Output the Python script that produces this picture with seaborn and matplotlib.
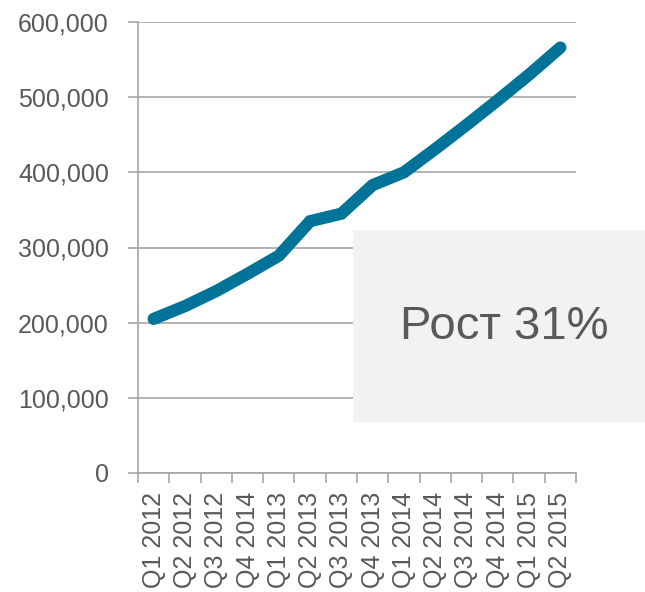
import matplotlib
matplotlib.use("Agg")
import matplotlib.pyplot as plt
import matplotlib.ticker as mticker
from matplotlib.patches import Rectangle
import seaborn as sns
import pandas as pd

quarters = ["Q1 2012", "Q2 2012", "Q3 2012", "Q4 2014", "Q1 2013", "Q2 2013",
            "Q3 2013", "Q4 2013", "Q1 2014", "Q2 2014", "Q3 2014", "Q4 2014",
            "Q1 2015", "Q2 2015"]
values = [205000, 222000, 242000, 265000, 289000, 335000, 345000, 383000,
          400000, 431000, 463000, 496000, 530000, 566000]
y_ticks = [0, 100000, 200000, 300000, 400000, 500000, 600000]
annotation = "Рост 31%"

sns.set_theme(style="white")
plt.rcParams["font.family"] = ["Liberation Sans", "DejaVu Sans"]

text_color = "#595959"
grid_color = "#a6a6a6"
line_color = "#007399"

df = pd.DataFrame({"x": list(range(len(quarters))), "y": values})

fig = plt.figure(figsize=(6.45, 5.92), dpi=100)
ax = fig.add_axes([138 / 645, 1 - 473 / 592, (576 - 138) / 645, (473 - 22) / 592])

sns.lineplot(data=df, x="x", y="y", ax=ax, color=line_color, linewidth=8.8,
             solid_capstyle="round", solid_joinstyle="miter", zorder=5)

ax.set_xlim(-0.5, len(quarters) - 0.5)
ax.set_ylim(0, 600000)
ax.set_yticks(y_ticks)
ax.yaxis.set_major_formatter(mticker.FuncFormatter(lambda v, p: f"{int(v):,}"))
ax.set_xticks(range(len(quarters)))
ax.set_xticklabels(quarters, rotation=90, va="top", ha="center")
ax.set_xticks([i - 0.5 for i in range(len(quarters) + 1)], minor=True)

ax.set_xlabel("")
ax.set_ylabel("")

ax.grid(axis="y", color=grid_color, linewidth=1.2, zorder=0)
ax.grid(axis="x", visible=False)
ax.set_axisbelow(True)

for s in ["top", "right"]:
    ax.spines[s].set_visible(False)
for s in ["left", "bottom"]:
    ax.spines[s].set_color(grid_color)
    ax.spines[s].set_linewidth(1.2)

ax.tick_params(axis="y", which="major", length=7, width=1.2, color=grid_color,
               pad=14, labelsize=18, labelcolor=text_color, left=True)
ax.tick_params(axis="x", which="major", length=0, pad=13.5, labelsize=18,
               labelcolor=text_color, bottom=True)
ax.tick_params(axis="x", which="minor", length=7, width=1.2, color=grid_color,
               bottom=True)

rect = Rectangle((353 / 645, 1 - 422 / 592), (645 - 353) / 645, (422 - 230) / 592,
                 transform=fig.transFigure, facecolor="#f2f2f2", edgecolor="none",
                 zorder=3)
ax.add_patch(rect)
rect.set_clip_on(False)

ax.text(504 / 645, 1 - 327 / 592, annotation, transform=fig.transFigure,
        fontsize=34, color=text_color, ha="center", va="center", zorder=4)

fig.savefig("out.png", dpi=100)
